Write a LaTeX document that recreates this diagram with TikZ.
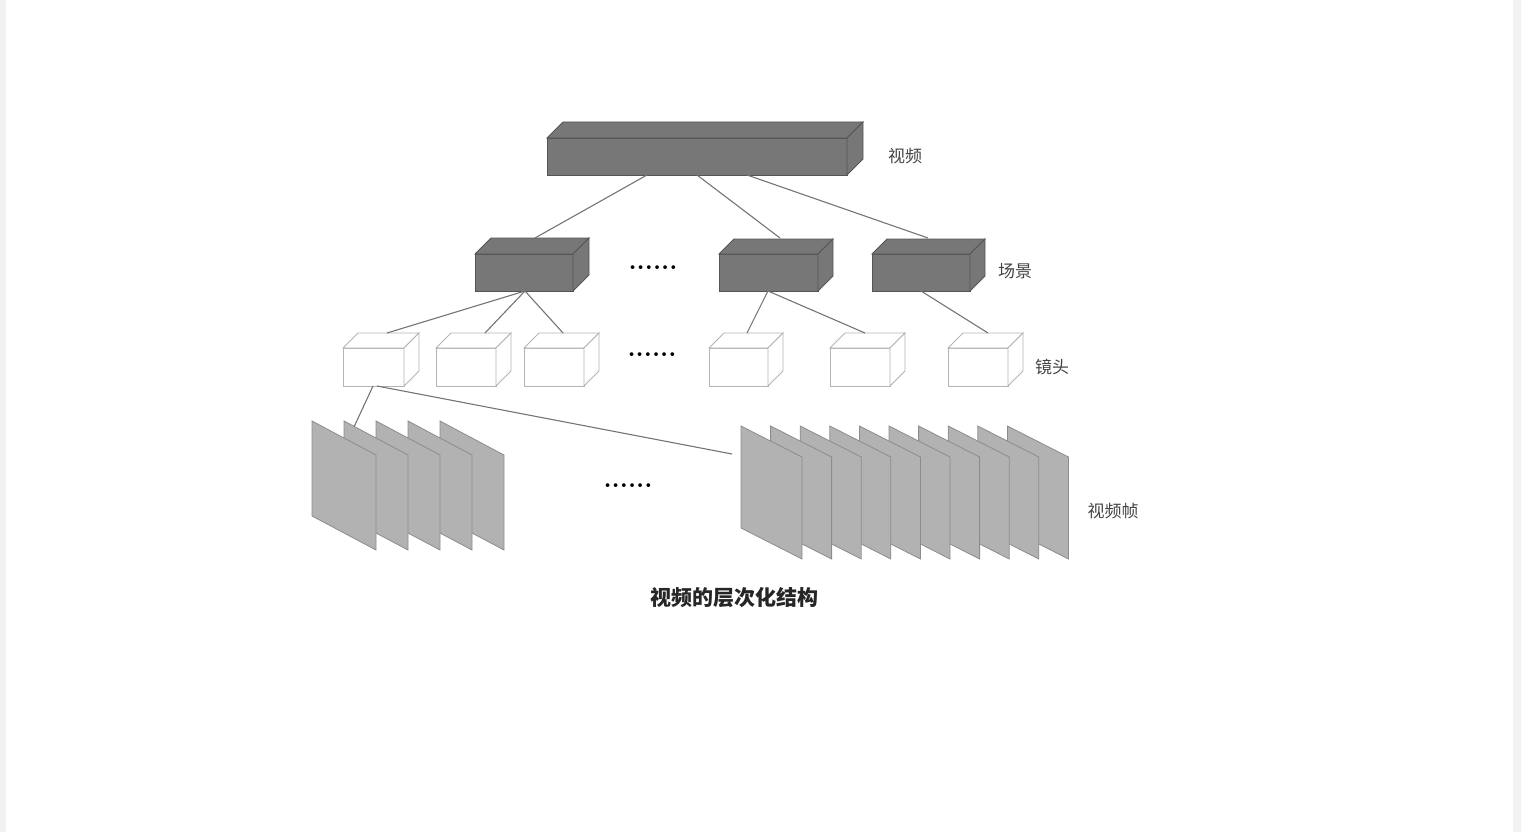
\documentclass[tikz,border=0pt]{standalone}
\usepackage{fontspec}
\newfontfamily\cjk{Noto Sans CJK SC}
\usetikzlibrary{calc}
\newcommand{\mycube}[7]{%
  \node[#7, minimum width=#4pt, minimum height=#5pt, anchor=north west] (#1) at (#2,#3) {};
  \draw[#7] (#1.north west) -- ++(#6pt,#6pt) -- ([shift={(#6pt,#6pt)}]#1.north east) -- (#1.north east) -- cycle;
  \draw[#7] (#1.north east) -- ++(#6pt,#6pt) -- ([shift={(#6pt,#6pt)}]#1.south east) -- (#1.south east) -- cycle;
}
\newcommand{\myframe}[6]{% name, x, y, w, h, slant
  \coordinate (#1tl) at (#2,#3);
  \coordinate (#1tr) at ($(#1tl)+(#4pt,-#6pt)$);
  \draw[frameface] (#1tl) -- (#1tr) -- ++(0,-#5pt) -- ($(#1tl)+(0,-#5pt)$) -- cycle;
}
\definecolor{darkfill}{HTML}{777777}
\definecolor{darkline}{HTML}{555555}
\definecolor{lightline}{HTML}{B4B4B4}
\definecolor{framefill}{HTML}{B2B2B2}
\definecolor{frameline}{HTML}{8C8C8C}
\definecolor{connline}{HTML}{747474}
\definecolor{labelgray}{HTML}{444444}
\definecolor{stripe}{HTML}{F2F2F2}
\tikzset{
  darkbox/.style={draw=darkline, fill=darkfill, line width=0.8pt, inner sep=0pt, outer sep=0pt},
  whitebox/.style={draw=lightline, fill=white, line width=0.8pt, inner sep=0pt, outer sep=0pt},
  frameface/.style={draw=frameline, fill=framefill, line width=0.8pt},
  conn/.style={draw=connline, line width=1.1pt},
  lbl/.style={font=\cjk\fontsize{17}{17}\selectfont, text=labelgray, inner sep=0pt},
  dots/.style={font=\bfseries\fontsize{26}{26}\selectfont, inner sep=0pt},
}
\begin{document}
\begin{tikzpicture}[x=1pt,y=-1pt]
\useasboundingbox (0,0) rectangle (1521,832);
\fill[stripe] (0,0) rectangle (6,832);
\fill[stripe] (1513,0) rectangle (1521,832);

% video
\mycube{top}{547}{138}{300}{37}{16}{darkbox}
% scenes
\mycube{sA}{475}{254}{98}{37}{16}{darkbox}
\mycube{sB}{719}{254}{99}{37}{15}{darkbox}
\mycube{sC}{872}{254}{98}{37}{15}{darkbox}
% shots
\mycube{h1}{343}{348}{61}{38}{15}{whitebox}
\mycube{h2}{436}{348}{60}{38}{15}{whitebox}
\mycube{h3}{524}{348}{60}{38}{15}{whitebox}
\mycube{h4}{709}{348}{59}{38}{15}{whitebox}
\mycube{h5}{830}{348}{60}{38}{15}{whitebox}
\mycube{h6}{948}{348}{60}{38}{15}{whitebox}

% frames, left group (back to front)
\foreach \i in {4,3,2,1,0}{
  \myframe{L\i}{312+32*\i}{421}{64}{95}{34}
}
% frames, right group
\foreach \i in {9,8,...,0}{
  \myframe{R\i}{741+29.6*\i}{426}{61}{102}{31}
}
\coordinate (fR) at (732,454);

% connectors
\draw[conn] ([xshift=100pt]top.south west) -- ([shift={(60pt,16pt)}]sA.north west);
\draw[conn] ([xshift=150pt]top.south west) -- ([shift={(61pt,16pt)}]sB.north west);
\draw[conn] ([xshift=200pt]top.south west) -- ([shift={(56pt,16pt)}]sC.north west);
\draw[conn] ([xshift=50pt]sA.south west) -- ([shift={(44pt,15pt)}]h1.north west);
\draw[conn] ([xshift=50pt]sA.south west) -- ([shift={(49pt,15pt)}]h2.north west);
\draw[conn] ([xshift=50pt]sA.south west) -- ([shift={(39pt,15pt)}]h3.north west);
\draw[conn] ([xshift=49pt]sB.south west) -- ([shift={(38pt,15pt)}]h4.north west);
\draw[conn] ([xshift=49pt]sB.south west) -- ([shift={(35pt,15pt)}]h5.north west);
\draw[conn] ([xshift=49pt]sC.south west) -- ([shift={(40pt,15pt)}]h6.north west);
\draw[conn] ([xshift=30pt]h1.south west) -- ($(L1tl)!0.16!(L1tr)$);
\draw[conn] ([xshift=34pt]h1.south west) -- (fR);

% dots
\node[dots] (d1) at (653,268) {......};
\node[dots] (d2) at (652,355) {......};
\node[dots] (d3) at (628,486) {......};

% labels
\node[lbl] (lv) at (905,156) {视频};
\node[lbl] (ls) at (1015,271) {场景};
\node[lbl] (lh) at (1052,367) {镜头};
\node[lbl] (lf) at (1113,511) {视频帧};

% caption
\node[font=\cjk\bfseries\fontsize{21}{21}\selectfont, text=black!85, inner sep=0pt] (cap) at (734,598) {视频的层次化结构};
\end{tikzpicture}
\end{document}
